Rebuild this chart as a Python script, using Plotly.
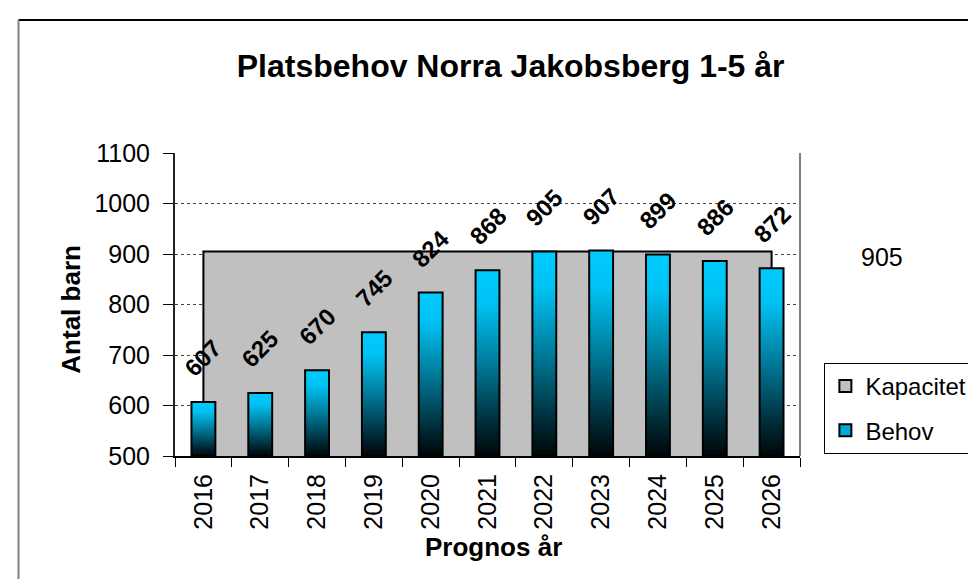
import plotly.graph_objects as go

# ---- data ----
years = ["2016", "2017", "2018", "2019", "2020", "2021", "2022", "2023", "2024", "2025", "2026"]
behov = [607, 625, 670, 745, 824, 868, 905, 907, 899, 886, 872]
kapacitet = [905, 905, 905, 905, 905, 905, 905, 905, 905, 905, 905]
y_ticks = [500, 600, 700, 800, 900, 1000, 1100]

title_text = "Platsbehov Norra Jakobsberg 1-5 år"
y_title = "Antal barn"
x_title = "Prognos år"

# ---- style ----
Y_MIN, Y_MAX = 500, 1100
HALF_W = 0.21
FONT = "Liberation Sans, Arial, sans-serif"
grad = [[0, "#000608"], [0.15, "#002631"], [0.5, "#007b9a"], [0.82, "#00c2f3"], [1, "#00ccff"]]

idx = list(range(len(years)))
fig = go.Figure()

# Kapacitet area (closed down to axis floor)
fig.add_trace(go.Scatter(
    x=[idx[0]] + idx + [idx[-1]],
    y=[Y_MIN] + kapacitet + [Y_MIN],
    fill="toself", fillcolor="#C0C0C0",
    mode="lines", line=dict(color="black", width=2),
    name="Kapacitet", showlegend=False, hoverinfo="skip",
))

# Behov bars with vertical gradient
for i, v in zip(idx, behov):
    fig.add_trace(go.Scatter(
        x=[i - HALF_W, i - HALF_W, i + HALF_W, i + HALF_W, i - HALF_W],
        y=[Y_MIN, v, v, Y_MIN, Y_MIN],
        fill="toself",
        fillgradient=dict(type="vertical", colorscale=grad),
        mode="lines", line=dict(color="black", width=2),
        name="Behov", showlegend=False, hoverinfo="skip",
    ))

# legend entries (square swatches)
fig.add_trace(go.Bar(x=[None], y=[None], name="Kapacitet", legendgroup="k",
                     marker=dict(color="#C0C0C0", line=dict(color="black", width=2))))
fig.add_trace(go.Bar(x=[None], y=[None], name="Behov", legendgroup="b",
                     marker=dict(color="#00aad6", line=dict(color="black", width=2))))

annotations = []
for i, v in zip(idx, behov):
    annotations.append(dict(
        x=i, y=v, xref="x", yref="y", text=str(v), showarrow=False,
        textangle=-45, yshift=44,
        font=dict(family=FONT, size=24, color="black", weight="bold"),
    ))
# capacity label shown outside the plot
annotations.append(dict(
    x=idx[-1], y=kapacitet[-1], xref="x", yref="y", text=str(kapacitet[-1]),
    showarrow=False, xshift=110, yshift=-6,
    font=dict(family=FONT, size=25, color="black"),
))
annotations.append(dict(
    x=-0.167, y=0.485, xref="paper", yref="paper", text=y_title, showarrow=False,
    textangle=-90, xanchor="center", yanchor="middle",
    font=dict(family=FONT, size=26, color="black", weight="bold"),
))
annotations.append(dict(
    x=0.509, y=-0.30, xref="paper", yref="paper", text=x_title, showarrow=False,
    xanchor="center", yanchor="middle",
    font=dict(family=FONT, size=26, color="black", weight="bold"),
))

fig.update_layout(
    width=976, height=579,
    margin=dict(l=167, r=174, t=145, b=131),
    paper_bgcolor="white", plot_bgcolor="white",
    title=dict(text=title_text, x=0.515, xref="container", xanchor="center",
               y=1 - 58 / 579, yref="container", yanchor="middle",
               font=dict(family=FONT, size=32, color="black", weight="bold")),
    showlegend=True,
    legend=dict(x=1.039, y=0.307, xanchor="left", yanchor="top",
                bgcolor="white", bordercolor="black", borderwidth=1,
                font=dict(family=FONT, size=24, color="black"),
                tracegroupgap=10, itemwidth=30),
    annotations=annotations,
    shapes=[
        # outer chart border (top and left, rest outside image)
        dict(type="line", xref="paper", yref="paper", x0=-0.2504, x1=1.3, y0=1.439, y1=1.439,
             line=dict(color="black", width=2)),
        dict(type="line", xref="paper", yref="paper", x0=-0.2504, x1=-0.2504, y0=1.439, y1=-0.46,
             line=dict(color="#808080", width=2)),
        # right plot-area border
        dict(type="line", xref="paper", yref="paper", x0=1, x1=1, y0=0, y1=1,
             line=dict(color="#808080", width=2)),
    ],
)

fig.update_xaxes(
    range=[-0.5, len(years) - 0.5],
    tickmode="array", tickvals=idx, ticktext=years, tickangle=-90,
    ticks="", showgrid=False, zeroline=False,
    showline=True, linecolor="black", linewidth=2,
    ticklabelstandoff=6,
    tickfont=dict(family=FONT, size=25, color="black"),
    minor=dict(tick0=-0.5, dtick=1, ticks="outside", ticklen=9, tickcolor="black", tickwidth=1, showgrid=False),
)
fig.update_yaxes(
    range=[Y_MIN, Y_MAX], tickmode="array", tickvals=y_ticks,
    ticks="outside", ticklen=10, tickcolor="black", tickwidth=1,
    showline=True, linecolor="#222222", linewidth=2,
    showgrid=True, gridcolor="#444444", griddash="dot", gridwidth=1,
    zeroline=False, ticklabelstandoff=8,
    tickfont=dict(family=FONT, size=25, color="black"),
)

fig.write_html("out.html")
